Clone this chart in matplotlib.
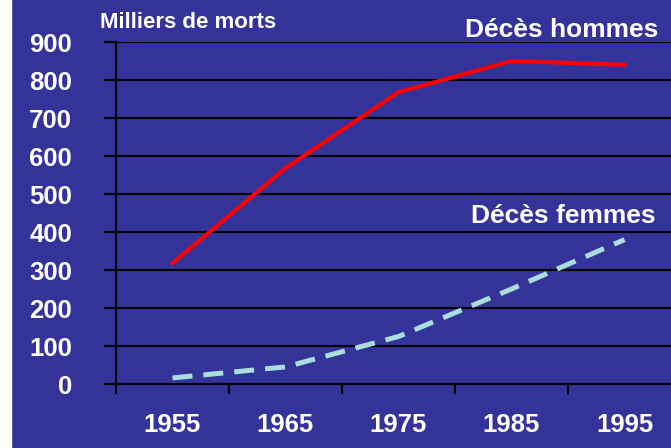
import matplotlib
matplotlib.use("Agg")
import matplotlib.pyplot as plt
import numpy as np

years = ["1955", "1965", "1975", "1985", "1995"]
deces_hommes = [318, 568, 768, 850, 840]
deces_femmes = [16, 45, 125, 250, 380]
yticks = [0, 100, 200, 300, 400, 500, 600, 700, 800, 900]

plt.rcParams['font.family'] = ['Liberation Sans', 'DejaVu Sans']
bg = '#333399'

fig = plt.figure(figsize=(6.71, 4.48), dpi=100)
fig.patch.set_facecolor(bg)
# thin white strip on the left
fig.patches.append(plt.Rectangle((0, 0), 11/671, 1, transform=fig.transFigure,
                                 color='white', zorder=0))

W, H = 671, 448
ax = fig.add_axes([116/W, 1 - 384/H, (681 - 116)/W, (384 - 42)/H])
ax.set_facecolor(bg)

x = np.arange(len(years)) + 0.5
ax.plot(x, deces_hommes, color='#ff0000', lw=3.0, solid_joinstyle='round', zorder=3)
ax.plot(x, deces_femmes, color='#aadddd', lw=3.6, dashes=(4, 2.2),
        dash_capstyle='butt', zorder=3)

ax.set_xlim(0, 5)
ax.set_ylim(0, 900)

for s in ['top', 'right']:
    ax.spines[s].set_visible(False)
ax.spines['left'].set_color('black')
ax.spines['bottom'].set_color('black')
ax.spines['left'].set_linewidth(1.5)
ax.spines['bottom'].set_linewidth(1.5)

ax.set_yticks(yticks)
ax.set_yticklabels([str(v) for v in yticks])
ax.yaxis.grid(True, color='black', lw=1.5)
ax.tick_params(axis='y', length=8.6, width=1.5, color='black', pad=23,
               labelcolor='white', labelsize=18.5)

ax.set_xticks(x)
ax.set_xticklabels(years)
ax.set_xticks(np.arange(0, 6), minor=True)
ax.tick_params(axis='x', which='major', length=0, pad=21,
               labelcolor='white', labelsize=18.5)
ax.tick_params(axis='x', which='minor', length=7.5, width=1.5, color='black')
for lbl in ax.get_xticklabels() + ax.get_yticklabels():
    lbl.set_fontweight('bold')

fig.text(100/W, 1 - 22/H, 'Milliers de morts', color='white', fontsize=16,
         fontweight='bold', ha='left', va='center')
fig.text(658/W, 1 - 30/H, 'Décès hommes', color='white', fontsize=19,
         fontweight='bold', ha='right', va='center')
fig.text(656/W, 1 - 216/H, 'Décès femmes', color='white', fontsize=19,
         fontweight='bold', ha='right', va='center')

fig.savefig('out.png', dpi=100, facecolor=fig.get_facecolor())
